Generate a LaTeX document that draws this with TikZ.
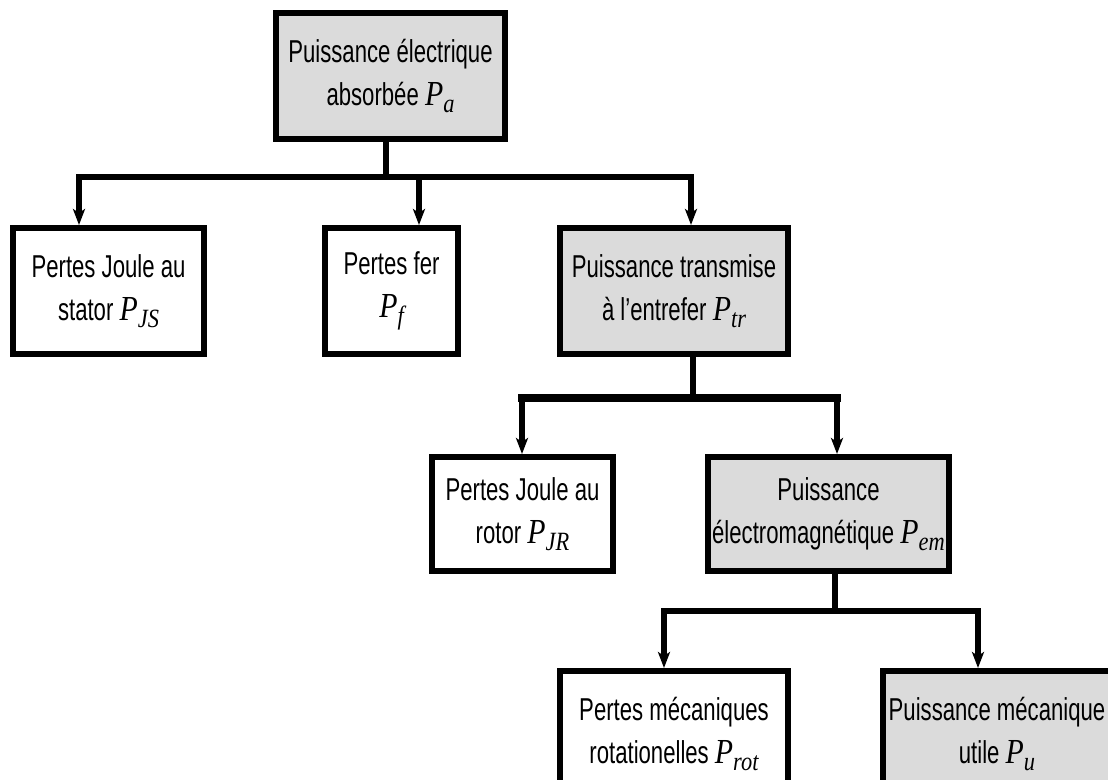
\documentclass[tikz,border=0pt]{standalone}
\usepackage{amsmath,amssymb}
\usepackage{xcolor}
\usepackage{fontspec}
\setmainfont{Liberation Sans}[FakeStretch=0.70]
\newfontfamily\pfont{Liberation Serif}[FakeStretch=0.85]
\newcommand{\pw}[1]{{\pfont\itshape\fontsize{20}{24.5}\selectfont P\raisebox{-0.45ex}{\fontsize{15}{15}\selectfont #1}}}
\usepackage{tikz}
\usetikzlibrary{arrows.meta}

\begin{document}
\begin{tikzpicture}[
    every node/.style={font=\fontsize{18}{24.5}\selectfont, align=center},
    boite/.style={draw, line width=3.4pt, minimum height=2.52cm, inner sep=0pt},
    grise/.style={boite, fill=gray!28},
    lien/.style={line width=3.4pt, line cap=rect},
    fleche/.style={line width=3.4pt, -{Stealth[length=3.2mm,width=2.4mm,inset=0.8mm]}}]
\useasboundingbox (0,0) rectangle (22.16,-15.6);

    \node[grise, minimum width=4.58cm] (pa) at (7.81,-1.52) {Puissance électrique\\absorbée \pw{a}};

    \node[boite, minimum width=3.82cm] (pjs) at (2.17,-5.82) {Pertes Joule au\\stator \pw{JS}};
    \node[boite, minimum width=2.66cm] (pf) at (7.83,-5.82) {Pertes fer\\\pw{f}};
    \node[grise, minimum width=4.56cm] (ptr) at (13.48,-5.82) {Puissance transmise\\à l'entrefer \pw{tr}};

    \node[boite, minimum width=3.62cm, minimum height=2.28cm] (pjr) at (10.45,-10.28) {Pertes Joule au\\rotor \pw{JR}};
    \node[grise, minimum width=4.82cm, minimum height=2.28cm] (pem) at (16.57,-10.28) {Puissance\\électromagnétique \pw{em}};

    \node[boite, minimum width=4.56cm] (prot) at (13.48,-14.68) {Pertes mécaniques\\rotationelles \pw{rot}};
    \node[grise, minimum width=4.56cm] (pu) at (19.94,-14.68) {Puissance mécanique\\utile \pw{u}};

    % points on the bus lines
    \coordinate (b1t) at (7.72,-3.54);
    \coordinate (b1g) at (1.58,-3.54);
    \coordinate (b1m) at (8.38,-3.54);
    \coordinate (b1d) at (13.82,-3.54);
    \coordinate (b2t) at (13.86,-7.96);
    \coordinate (b2g) at (10.44,-7.96);
    \coordinate (b2d) at (16.74,-7.96);
    \coordinate (b3t) at (16.70,-12.22);
    \coordinate (b3g) at (13.28,-12.22);
    \coordinate (b3d) at (19.56,-12.22);

    % draw the bus lines
    \draw[lien] (b1t |- pa.south) -- (b1t);
    \draw[lien] (b1g) -- (b1d);
    \draw[lien] (b2t |- ptr.south) -- (b2t);
    \draw[lien, line width=5pt] (b2g) -- (b2d);
    \draw[lien] (b3t |- pem.south) -- (b3t);
    \draw[lien] (b3g) -- (b3d);

    % draw the arrows
    \draw[fleche] (b1g) -- (b1g |- pjs.north);
    \draw[fleche] (b1m) -- (b1m |- pf.north);
    \draw[fleche] (b1d) -- (b1d |- ptr.north);
    \draw[fleche] (b2g) -- (b2g |- pjr.north);
    \draw[fleche] (b2d) -- (b2d |- pem.north);
    \draw[fleche] (b3g) -- (b3g |- prot.north);
    \draw[fleche] (b3d) -- (b3d |- pu.north);

\end{tikzpicture}
\end{document}
